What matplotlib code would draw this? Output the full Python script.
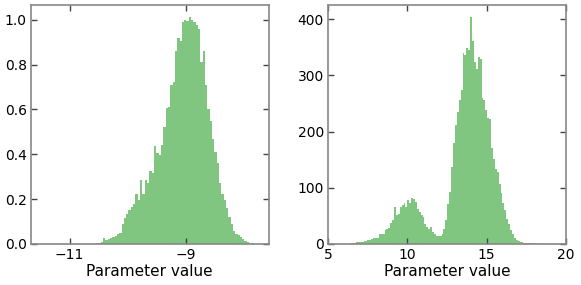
import numpy as np
import matplotlib
matplotlib.use("Agg")
import matplotlib.pyplot as plt

# left panel: normalised histogram, bins of 0.04 starting at -10.546
LEFT_START = -10.546
LEFT_WIDTH = 0.04
left_heights = [0.004, 0.005, 0.008, 0.025, 0.018, 0.02, 0.025, 0.03, 0.035, 0.045,
                0.05, 0.09, 0.115, 0.135, 0.15, 0.165, 0.18, 0.225, 0.195, 0.285,
                0.225, 0.285, 0.27, 0.325, 0.315, 0.435, 0.405, 0.395, 0.44, 0.52,
                0.605, 0.61, 0.71, 0.72, 0.86, 0.92, 0.905, 0.99, 1.0, 0.995,
                1.01, 1.0, 0.99, 0.975, 0.96, 0.81, 0.86, 0.71, 0.6, 0.55,
                0.47, 0.41, 0.36, 0.27, 0.225, 0.195, 0.16, 0.12, 0.09, 0.06,
                0.045, 0.04, 0.03, 0.02, 0.013, 0.009, 0.006, 0.004]

# right panel: counts, bins of 0.12 starting at 6.4
RIGHT_START = 6.4
RIGHT_WIDTH = 0.12
right_counts = [1, 2, 2, 3, 3, 3, 4, 5, 6, 7,
                7, 8, 10, 11, 10, 17, 18, 17, 24, 27,
                28, 37, 42, 66, 51, 54, 65, 70, 72, 66,
                78, 72, 82, 80, 74, 62, 56, 52, 48, 35,
                30, 26, 30, 22, 18, 15, 14, 14, 17, 26,
                42, 71, 93, 137, 180, 211, 235, 256, 274, 339,
                336, 348, 345, 403, 362, 324, 312, 333, 330, 259,
                256, 238, 225, 222, 170, 152, 134, 128, 107, 90,
                72, 60, 45, 36, 24, 18, 11, 7, 5, 4,
                3, 2, 2, 1, 1, 1, 1, 0, 1, 0, 1, 0]

left_xticks = [-11, -9]
right_xticks = [5, 10, 15, 20]
xlabel = "Parameter value"

fig, (ax1, ax2) = plt.subplots(1, 2, figsize=(5.81, 2.85), dpi=100)
fig.subplots_adjust(left=0.053, right=0.974, bottom=0.144, top=0.982, wspace=0.25)

def draw(ax, start, width, heights):
    edges = start + width * np.arange(len(heights) + 1)
    centers = 0.5 * (edges[:-1] + edges[1:])
    ax.hist(centers, bins=edges, weights=heights, color="#2ca02c", alpha=0.6)

draw(ax1, LEFT_START, LEFT_WIDTH, left_heights)
draw(ax2, RIGHT_START, RIGHT_WIDTH, right_counts)

ax1.set_xlim(-11.67, -7.57)
ax1.set_ylim(0, 1.065)
ax1.set_xticks(left_xticks)
ax1.set_xticklabels(["\u221211", "\u22129"])
ax1.set_yticks([0, 0.2, 0.4, 0.6, 0.8, 1.0])

ax2.set_xlim(5, 20)
ax2.set_ylim(0, 425)
ax2.set_xticks(right_xticks)
ax2.set_yticks([0, 100, 200, 300, 400])

for ax in (ax1, ax2):
    ax.set_xlabel(xlabel, fontsize=11, labelpad=1)
    ax.tick_params(direction="in", top=True, right=True, length=4, width=1,
                   color="#444444", labelsize=10, pad=3)
    for s in ax.spines.values():
        s.set_color("#888888")
        s.set_linewidth(1.2)

fig.savefig("out.png", dpi=100)
